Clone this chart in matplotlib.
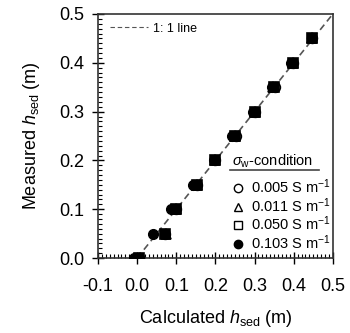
import matplotlib.pyplot as plt
from matplotlib.lines import Line2D
from matplotlib.ticker import MultipleLocator

plt.rcParams['font.family'] = ['Liberation Sans', 'DejaVu Sans']
plt.rcParams['mathtext.fontset'] = 'custom'
plt.rcParams['mathtext.it'] = 'Liberation Sans:italic'
plt.rcParams['mathtext.rm'] = 'Liberation Sans'

measured = [0.0, 0.05, 0.10, 0.15, 0.20, 0.25, 0.30, 0.35, 0.40, 0.45]
calc_005 = [0.005, 0.072, 0.100, 0.153, 0.200, 0.252, 0.302, 0.352, 0.398, 0.448]
calc_011 = [0.008, 0.074, 0.098, 0.152, 0.198, 0.250, 0.300, 0.348, 0.398, 0.447]
calc_050 = [0.006, 0.071, 0.099, 0.153, 0.199, 0.251, 0.301, 0.349, 0.397, 0.448]
calc_103 = [-0.008, 0.040, 0.087, 0.143, 0.197, 0.243, 0.295, 0.344, 0.394, 0.446]
labels = ['0.005 S m$^{-1}$', '0.011 S m$^{-1}$', '0.050 S m$^{-1}$', '0.103 S m$^{-1}$']

fig = plt.figure(figsize=(3.5, 3.33), dpi=100)
ax = fig.add_axes([0.28, 0.225, 0.671, 0.733])

ax.plot([0, 0.5], [0, 0.5], ls=(0, (4, 2.5)), color='#555555', lw=1.2, zorder=1)

ms = 7
ax.plot(calc_005, measured, 'o', mfc='white', mec='black', mew=1.2, ms=ms, zorder=3)
ax.plot(calc_011, measured, '^', mfc='white', mec='black', mew=1.2, ms=ms, zorder=3)
ax.plot(calc_050, measured, 's', mfc='black', mec='black', mew=1.2, ms=ms, zorder=3)
ax.plot(calc_103, measured, 'o', mfc='black', mec='black', mew=1.0, ms=ms, zorder=4)

ax.set_xlim(-0.1, 0.5)
ax.set_ylim(0, 0.5)
ax.xaxis.set_major_locator(MultipleLocator(0.1))
ax.yaxis.set_major_locator(MultipleLocator(0.1))
ax.xaxis.set_minor_locator(MultipleLocator(0.01))
ax.yaxis.set_minor_locator(MultipleLocator(0.01))
ax.xaxis.set_major_formatter(lambda v, p: f'{v:.1f}')
ax.yaxis.set_major_formatter(lambda v, p: f'{v:.1f}')
ax.tick_params(which='major', direction='inout', length=8, width=1, labelsize=13, pad=6)
ax.tick_params(which='minor', direction='in', length=3, width=0.8)
ax.tick_params(axis='x', pad=10)
for s in ax.spines.values():
    s.set_color('#333333')
    s.set_linewidth(1.2)

ax.set_xlabel('Calculated $h_{\\mathrm{sed}}$ (m)', fontsize=13, labelpad=10)
ax.set_ylabel('Measured $h_{\\mathrm{sed}}$ (m)', fontsize=13, labelpad=12)

line_handle = [Line2D([], [], ls=(0, (4, 2.5)), color='#555555', lw=0.8)]
leg1 = ax.legend(line_handle, ['1: 1 line'], loc='upper left', frameon=False,
                 fontsize=9, handlelength=3.1, handletextpad=0.4,
                 borderpad=0, borderaxespad=0, bbox_to_anchor=(0.05, 0.965))
ax.add_artist(leg1)

handles = [
    Line2D([], [], ls='none', marker='o', mfc='white', mec='black', ms=6),
    Line2D([], [], ls='none', marker='^', mfc='white', mec='black', ms=6),
    Line2D([], [], ls='none', marker='s', mfc='white', mec='black', ms=6),
    Line2D([], [], ls='none', marker='o', mfc='black', mec='black', ms=6),
]
ax.legend(handles, labels, loc='upper left', frameon=False, fontsize=10.5,
          handlelength=0.8, handletextpad=0.5, labelspacing=0.0,
          borderpad=0, borderaxespad=0, bbox_to_anchor=(0.572, 0.33))
ax.text(0.57, 0.395, '$\\sigma_{\\mathrm{w}}$-condition', transform=ax.transAxes,
        fontsize=10.5, ha='left', va='center')
ax.plot([0.56, 0.94], [0.36, 0.36], transform=ax.transAxes, color='#444444',
        lw=1.2, clip_on=False)

fig.savefig('out.png', dpi=100)
